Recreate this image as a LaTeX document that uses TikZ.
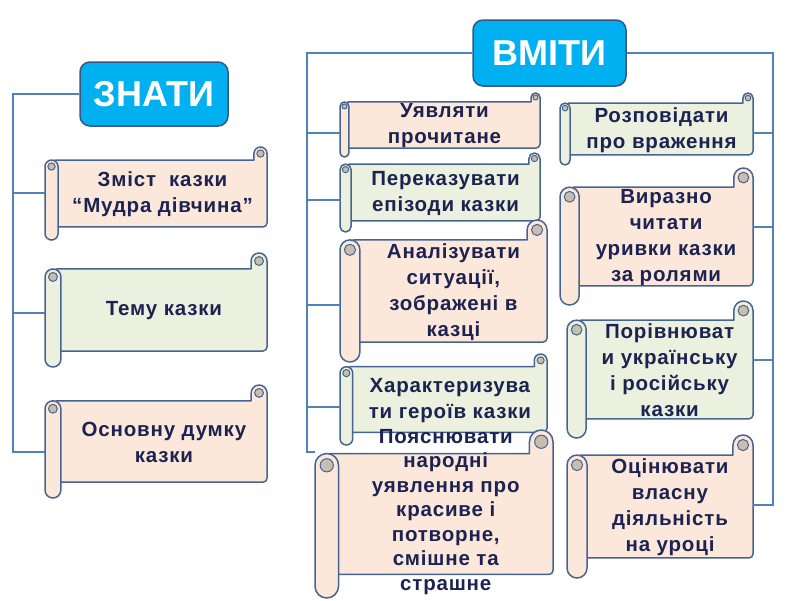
\documentclass[tikz,border=0pt]{standalone}
\usepackage{fontspec}
\setmainfont{Liberation Sans}
\usepackage{tikz}

\definecolor{headblue}{RGB}{0,176,240}
\definecolor{headline}{RGB}{56,87,130}
\definecolor{linkblue}{RGB}{79,129,189}
\definecolor{scrollline}{RGB}{70,100,145}
\definecolor{peach}{RGB}{252,232,218}
\definecolor{sage}{RGB}{235,241,222}
\definecolor{curl}{RGB}{200,190,176}
\definecolor{navy}{RGB}{28,35,82}

\tikzset{
  head/.style={draw=headline, line width=1.5pt, fill=headblue, rounded corners=10pt, text=white,
    font=\fontsize{36}{40}\selectfont\bfseries},
  link/.style={draw=linkblue, line width=1.3pt},
  scrolledge/.style={draw=scrollline, line width=1.5pt, line join=round},
  scrolltext/.style={text=navy, align=center, inner sep=0pt,
    font=\fontsize{20.5}{26}\selectfont\bfseries\addfontfeature{LetterSpace=4}},
  text poyasn/.style={yshift=3pt, font=\fontsize{20.5}{24.5}\selectfont\bfseries\addfontfeature{LetterSpace=4}},
}

\newcommand{\scrollnode}[8]{%
  \pgfmathsetmacro\scrd{0.14*min(#4-#2,#5-#3)}%
  \pgfmathsetmacro\scrh{\scrd/2}%
  \pgfmathsetmacro\scrc{0.28*\scrd}%
  \draw[scrolledge, fill=#7] (#2+\scrh,#3+\scrd) -- (#4-\scrd,#3+\scrd) -- (#4-\scrd,#3+\scrh)
    arc[start angle=180, end angle=0, radius=\scrh pt] [rounded corners=4pt]
    -- (#4,#5-\scrd) -- (#2+\scrh,#5-\scrd) -- cycle;
  \draw[scrolledge, line width=1pt, fill=curl] (#4-\scrh,#3+\scrh) circle[radius=\scrc pt];
  \draw[scrolledge, fill=#7, rounded corners=\scrh pt] (#2,#3+\scrd) rectangle (#2+\scrd,#5);
  \draw[scrolledge, line width=1pt, fill=curl] (#2+\scrh,#3+\scrd+\scrh) circle[radius=\scrc pt];
  \coordinate (#1-l) at (#2,#6);
  \coordinate (#1-r) at (#4,#6);
  \node[scrolltext, text #1/.try] (#1) at ({(#2+\scrd+#4)/2},{(#3+#5)/2+1}) {#8};
}

\begin{document}
\begin{tikzpicture}[x=1pt,y=-1pt]
\useasboundingbox (0,0) rectangle (800,600);

\node[head, minimum width=148pt, minimum height=64pt] (znaty) at (154,94) {ЗНАТИ};
\node[head, minimum width=153pt, minimum height=66pt] (vmity) at (549.5,53) {ВМІТИ};

\scrollnode{zmist}{45}{147}{267}{240}{193}{peach}{Зміст\ \ казки\\“Мудра дівчина\symbol{34}}
\scrollnode{tema}{45}{253}{267}{367}{313}{sage}{Тему казки}
\scrollnode{osnova}{45}{385}{267}{498}{452}{peach}{Основну думку\\казки}

\scrollnode{uyavl}{340}{93}{540}{157}{133}{peach}{Уявляти\\прочитане}
\scrollnode{perekaz}{340}{153}{540}{232}{200}{sage}{Переказувати\\епізоди казки}
\scrollnode{analiz}{340}{220}{547}{362}{305}{peach}{Аналізувати\\ситуації,\\зображені в\\казці}
\scrollnode{kharakt}{340}{354}{547}{445}{407}{sage}{Характеризува\\ти героїв казки}
\scrollnode{poyasn}{315}{430}{553}{598}{452}{peach}{Пояснювати\\народні\\уявлення про\\красиве і\\потворне,\\смішне та\\страшне}

\scrollnode{rozpov}{560}{93}{753}{165}{133}{sage}{Розповідати\\про враження}
\scrollnode{vyrazno}{560}{168}{753}{305}{227}{peach}{Виразно\\читати\\уривки казки\\за ролями}
\scrollnode{porivn}{567}{301}{753}{438}{360}{sage}{Порівнюват\\и українську\\і російську\\казки}
\scrollnode{otsin}{567}{435}{753}{578}{505}{peach}{Оцінювати\\власну\\діяльність\\на уроці}

\coordinate (trunkL) at (13,94);
\draw[link] (znaty.west) -- (trunkL) |- (osnova-l);
\draw[link] (trunkL |- zmist-l) -- (zmist-l);
\draw[link] (trunkL |- tema-l) -- (tema-l);

\coordinate (trunkM) at (307,53);
\draw[link] (vmity.west) -- (trunkM) |- (poyasn-l);
\draw[link] (trunkM |- uyavl-l) -- (uyavl-l);
\draw[link] (trunkM |- perekaz-l) -- (perekaz-l);
\draw[link] (trunkM |- analiz-l) -- (analiz-l);
\draw[link] (trunkM |- kharakt-l) -- (kharakt-l);

\coordinate (trunkR) at (773,53);
\draw[link] (vmity.east) -- (trunkR) |- (otsin-r);
\draw[link] (trunkR |- rozpov-r) -- (rozpov-r);
\draw[link] (trunkR |- vyrazno-r) -- (vyrazno-r);
\draw[link] (trunkR |- porivn-r) -- (porivn-r);
\end{tikzpicture}
\end{document}
